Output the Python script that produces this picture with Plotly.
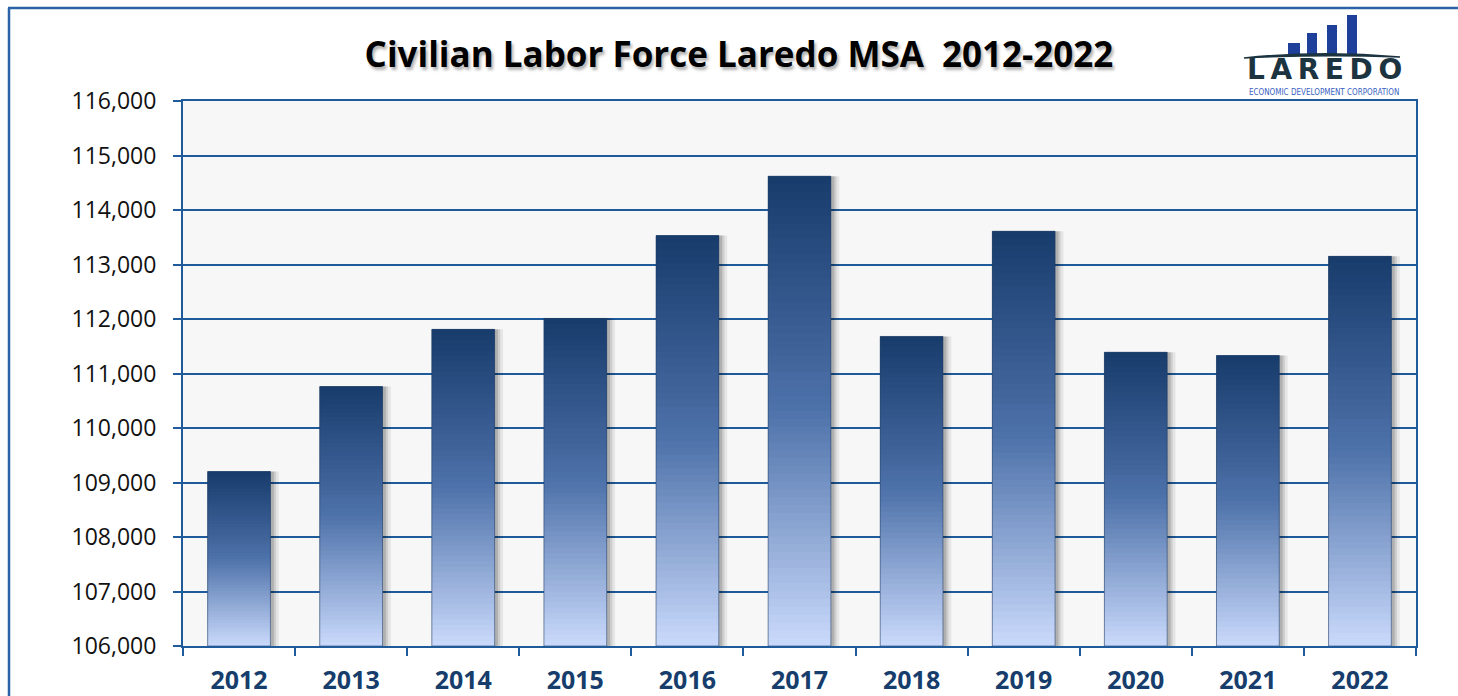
import plotly.graph_objects as go

# 라레도 MSA 민간 노동력 (2012-2022)
years = ['2012', '2013', '2014', '2015', '2016', '2017',
         '2018', '2019', '2020', '2021', '2022']
labor_force = [109200, 110760, 111810, 112010, 113530, 114620,
               111680, 113610, 111390, 111330, 113150]

y_base = 106000
y_ticks = [106000, 107000, 108000, 109000, 110000, 111000,
           112000, 113000, 114000, 115000, 116000]

W, H = 1458, 696
L, R, T, B = 183, 42, 101, 50
PW, PH = W - L - R, H - T - B


def px_x(p):
    return (p - L) / PW


def px_y(p):
    return (H - B - p) / PH


def mix(c1, c2, t):
    return 'rgb(%d,%d,%d)' % tuple(round(a + (b - a) * t) for a, b in zip(c1, c2))


top_c = (24, 60, 108)
mid_c = (78, 114, 170)
bot_c = (200, 216, 250)

bar_w = 0.56
fig = go.Figure()

# 막대 오른쪽 그림자
for extra, alpha in [(0.075, 0.07), (0.05, 0.10), (0.03, 0.14)]:
    fig.add_trace(go.Bar(
        x=years, y=[v - y_base for v in labor_force], base=y_base,
        width=bar_w + extra, offset=-bar_w / 2,
        marker=dict(color='rgba(0,0,0,%s)' % alpha, line_width=0),
        hoverinfo='skip', showlegend=False))

# 그라데이션 막대 (위: 진한 남색 -> 아래: 연한 하늘색), 조각끼리 조금 겹치게
n_seg = 60
for i in range(n_seg):
    t = i / (n_seg - 1)  # 0 = 아래, 1 = 위
    if t < 0.5:
        col = mix(bot_c, mid_c, t / 0.5)
    else:
        col = mix(mid_c, top_c, (t - 0.5) / 0.5)
    seg = [(v - y_base) / n_seg for v in labor_force]
    h = [s * 2 if i < n_seg - 1 else s for s in seg]
    fig.add_trace(go.Bar(
        x=years, y=h, base=[y_base + s * i for s in seg],
        width=bar_w, offset=-bar_w / 2,
        marker=dict(color=col, line_width=0),
        hoverinfo='skip', showlegend=False))

# 막대 테두리
fig.add_trace(go.Bar(
    x=years, y=[v - y_base for v in labor_force], base=y_base,
    width=bar_w, offset=-bar_w / 2,
    marker=dict(color='rgba(0,0,0,0)', line=dict(color='rgba(30,60,100,0.55)', width=1)),
    hovertemplate='%{x}: %{customdata:,}<extra></extra>',
    customdata=labor_force, showlegend=False))

# 바깥 테두리
shapes = [
    dict(type='line', xref='paper', yref='paper',
         x0=px_x(9), x1=px_x(9), y0=px_y(H + 5), y1=px_y(8),
         line=dict(color='#2a63a8', width=2.5)),
    dict(type='line', xref='paper', yref='paper',
         x0=px_x(8), x1=px_x(W + 5), y0=px_y(8), y1=px_y(8),
         line=dict(color='#2a63a8', width=2.5)),
]

# 로고 막대
logo_bars = [(1288, 1300, 43), (1307, 1317, 33), (1327, 1337, 25), (1347, 1357, 15)]
for x0, x1, y0 in logo_bars:
    shapes.append(dict(type='rect', xref='paper', yref='paper',
                       x0=px_x(x0), x1=px_x(x1), y0=px_y(54), y1=px_y(y0),
                       fillcolor='#1e3f9a', line_width=0))
shapes.append(dict(type='path', xref='paper', yref='paper',
                   path='M %f %f Q %f %f %f %f Q %f %f %f %f Z' % (
                       px_x(1244), px_y(58), px_x(1320), px_y(50), px_x(1400), px_y(57),
                       px_x(1320), px_y(54), px_x(1244), px_y(58)),
                   fillcolor='#1c3340', line=dict(color='#1c3340', width=1.5)))

annotations = [
    dict(text='L\u2009A\u2009R\u2009E\u2009D\u2009O', xref='paper', yref='paper',
         x=px_x(1324), y=px_y(69), xanchor='center', yanchor='middle', showarrow=False,
         borderpad=0, font=dict(family='DejaVu Sans', size=28, color='#1c3340', weight='bold')),
    dict(text='ECONOMIC DEVELOPMENT CORPORATION', xref='paper', yref='paper',
         x=px_x(1324), y=px_y(92), xanchor='center', yanchor='middle', showarrow=False,
         borderpad=0, font=dict(family='DejaVu Sans Condensed, DejaVu Sans', size=8, color='#3a5fc0')),
]

fig.update_layout(
    width=W, height=H,
    margin=dict(l=L, r=R, t=T, b=B, autoexpand=False),
    barmode='overlay',
    paper_bgcolor='white',
    plot_bgcolor='#f7f7f7',
    title=dict(text='Civilian Labor Force Laredo MSA  2012-2022',
               x=739 / W, xanchor='center', y=1 - 55 / H, yanchor='middle',
               font=dict(family='Open Sans', size=35, color='black', weight='bold',
                         shadow='2px 3px 3px rgba(0,0,0,0.3)')),
    shapes=shapes,
    annotations=annotations,
    showlegend=False,
)

fig.update_xaxes(
    type='category', tickson='boundaries',
    ticks='outside', ticklen=8, tickwidth=1.5, tickcolor='#1f5a9a',
    showline=True, linecolor='#1f5a9a', linewidth=2, mirror=True,
    showgrid=False, automargin=False,
    tickfont=dict(family='Open Sans', size=25, color='#163d6b', weight='bold'),
    ticklabelstandoff=11,
)
fig.update_yaxes(
    range=[y_base, 116000], tickvals=y_ticks, tickformat=',',
    ticks='outside', ticklen=8, tickwidth=1.5, tickcolor='#1f5a9a',
    showline=True, linecolor='#1f5a9a', linewidth=2, mirror=True,
    showgrid=True, gridcolor='#1f5a9a', gridwidth=1.5, automargin=False,
    tickfont=dict(family='Open Sans', size=23, color='#111111'),
    ticklabelstandoff=12,
)

fig.write_html('out.html', config={'displayModeBar': False},
               post_script="document.body.style.margin='0';document.body.style.overflow='hidden';")
